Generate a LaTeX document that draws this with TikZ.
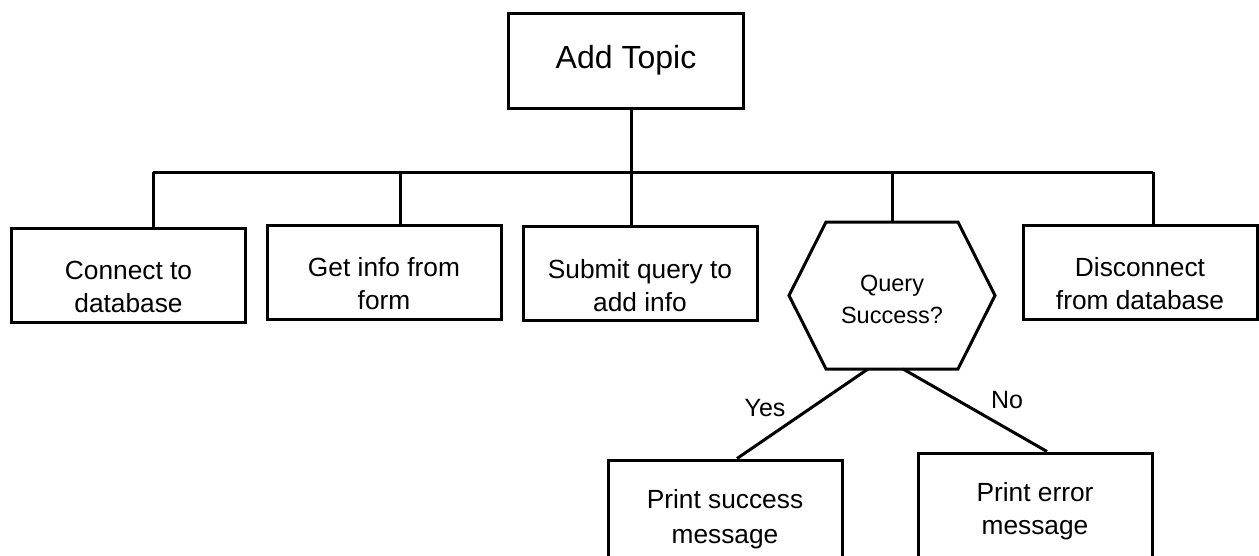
\documentclass[tikz,border=0pt]{standalone}
\usepackage{fontspec}
\setmainfont{Liberation Sans}
\begin{document}
\begin{tikzpicture}[x=1pt,y=-1pt,
  ln/.style={line width=3pt,black},
  boxshape/.style={draw,ln,rectangle,inner sep=0pt,minimum width=234pt,minimum height=94pt},
  txt/.style={align=center,inner sep=0pt,font=\fontsize{26.3}{33}\selectfont},
  qtxt/.style={align=center,inner sep=0pt,font=\fontsize{23.5}{32}\selectfont},
  lbl/.style={inner sep=0pt,font=\fontsize{25}{30}\selectfont}]
\useasboundingbox (0,0) rectangle (1259,555);
\clip (0,0) rectangle (1259,555);
% top box
\node[boxshape,minimum width=235pt,minimum height=95pt] (addtopic) at (625.5,60.5) {};
\node[txt,font=\fontsize{32}{38}\selectfont] (addtopicT) at (626,60) {Add Topic};
% second row boxes
\node[boxshape] (connect) at (128.5,275.5) {};
\node[txt] (connectT) at (128.5,286.5) {Connect to\\database};
\node[boxshape] (getinfo) at (384,272) {};
\node[txt] (getinfoT) at (384,283.5) {Get info from\\form};
\node[boxshape] (submit) at (640,273.5) {};
\node[txt] (submitT) at (640,286) {Submit query to\\add info};
\node[boxshape] (disconnect) at (1140,272) {};
\node[txt] (disconnectT) at (1140,284) {Disconnect\\from database};
% hexagon
\coordinate (hT1) at (826,222);
\coordinate (hT2) at (958,222);
\coordinate (hR) at (995,295.5);
\coordinate (hB2) at (958,369);
\coordinate (hB1) at (826,369);
\coordinate (hL) at (789,295.5);
\draw[ln,line join=miter] (hT1) -- (hT2) -- (hR) -- (hB2) -- (hB1) -- (hL) -- cycle;
\node[qtxt] (query) at (892,299) {Query\\Success?};
% bottom boxes
\node[boxshape,minimum height=180pt] (success) at (725,550) {};
\node[txt,font=\fontsize{26.3}{35}\selectfont] (successT) at (725,519.5) {Print success\\message};
\node[boxshape,minimum height=180pt] (error) at (1035,543) {};
\node[txt] (errorT) at (1035,511.5) {Print error\\message};
% bus
\coordinate (b1) at (153,172);
\coordinate (b2) at (400,172);
\coordinate (b3) at (631,172);
\coordinate (b4) at (892,172);
\coordinate (b5) at (1153,172);
\draw[ln] (b1) -- (b5);
\draw[ln] (addtopic.south -| b3) -- (b3 |- submit.north);
\draw[ln] (b1) -- (b1 |- connect.north);
\draw[ln] (b2) -- (b2 |- getinfo.north);
\draw[ln] (b4) -- (b4 |- hT1);
\draw[ln] (b5) -- (b5 |- disconnect.north);
% yes / no branches
\coordinate (yesS) at (868,369);
\coordinate (noS) at (903,369);
\coordinate (yesE) at (737,0);
\coordinate (noE) at (1047,0);
\draw[ln] (yesS) -- (yesE |- success.north);
\draw[ln] (noS) -- (noE |- error.north);
\node[lbl] (yes) at (765,408) {Yes};
\node[lbl] (no) at (1007,400) {No};
\end{tikzpicture}
\end{document}
